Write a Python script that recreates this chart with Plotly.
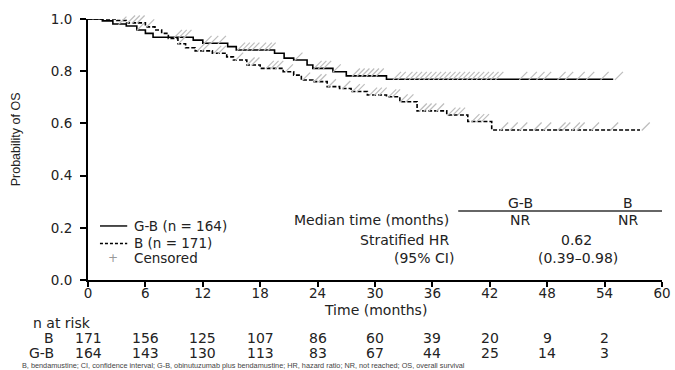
import plotly.graph_objects as go

# ---- data ----
gb_times = [0, 1.5, 2.6, 4.0, 5.1, 6.0, 6.8, 11.0, 12.0, 14.6, 15.5, 19.5, 20.5, 21.5,
            22.9, 23.5, 25.6, 27.0, 31.2, 54.9]
gb_surv = [1.0, 0.993, 0.981, 0.973, 0.958, 0.945, 0.930, 0.919, 0.907, 0.894, 0.881,
           0.869, 0.850, 0.843, 0.824, 0.811, 0.798, 0.782, 0.769, 0.769]
b_times = [0, 3.0, 4.0, 6.0, 7.0, 7.7, 8.4, 9.4, 10.2, 11.2, 13.0, 14.5, 15.2, 16.6,
           18.0, 20.4, 21.5, 22.3, 23.5, 25.0, 26.3, 27.5, 29.2, 31.2, 32.6, 34.4, 37.5,
           39.7, 42.2, 57.7]
b_surv = [1.0, 0.994, 0.985, 0.970, 0.958, 0.945, 0.925, 0.905, 0.890, 0.878, 0.869,
          0.855, 0.843, 0.824, 0.811, 0.798, 0.785, 0.766, 0.760, 0.741, 0.734, 0.722,
          0.709, 0.702, 0.683, 0.648, 0.632, 0.607, 0.575, 0.575]
gb_censor = [0.6, 1.0, 3.6, 5.5, 9.4, 9.9, 10.4, 12.5, 13.2, 14.0, 16.0, 16.5, 17.0,
             17.5, 18.2, 18.8, 19.2, 22.0, 24.0, 24.5, 25.0, 26.0, 28.0, 28.5, 29.0,
             29.5, 30.0, 30.5, 32.3, 32.8, 33.5, 34.0, 34.5, 35.0, 35.5, 36.0, 36.5,
             37.0, 37.5, 38.0, 38.5, 39.0, 39.5, 40.0, 40.5, 41.0, 41.5, 42.0, 42.5,
             43.0, 45.5, 46.5, 47.3, 48.0, 49.5, 50.3, 51.5, 52.5, 54.0, 55.5]
b_censor = [0.3, 1.0, 2.0, 4.5, 5.0, 5.5, 6.5, 9.8, 11.8, 12.3, 13.5, 14.0, 15.8,
            17.0, 17.5, 19.0, 19.5, 20.0, 21.0, 22.8, 24.0, 24.5, 25.5, 27.0, 28.0,
            28.5, 29.8, 30.3, 30.8, 31.8, 32.2, 33.0, 33.6, 35.0, 35.5, 36.0, 36.8,
            38.0, 38.5, 39.0, 40.5, 41.0, 41.5, 43.5, 44.5, 45.5, 47.0, 48.0, 49.5,
            50.0, 51.0, 51.5, 53.0, 55.0, 58.3]
risk_times = [0, 6, 12, 18, 24, 30, 36, 42, 48, 54]
risk_b = [171, 156, 125, 107, 86, 60, 39, 20, 9, 2]
risk_gb = [164, 143, 130, 113, 83, 67, 44, 25, 14, 3]
x_ticks = [0, 6, 12, 18, 24, 30, 36, 42, 48, 54, 60]
y_ticks = [0.0, 0.2, 0.4, 0.6, 0.8, 1.0]
footnote = ("B, bendamustine; CI, confidence interval; G-B, obinutuzumab plus bendamustine; "
            "HR, hazard ratio; NR, not reached; OS, overall survival")

FONT = "DejaVu Sans, Arial, sans-serif"
TXT = "#222222"
CENSOR_OFFSET = 0.013


def step_value(times, surv, t):
    v = surv[0]
    for ti, si in zip(times, surv):
        if ti <= t:
            v = si
    return v


fig = go.Figure()
fig.add_trace(go.Scatter(x=gb_times, y=gb_surv, mode="lines", line_shape="hv",
                         line=dict(color="black", width=1.6), cliponaxis=False,
                         showlegend=False))
fig.add_trace(go.Scatter(x=b_times, y=b_surv, mode="lines", line_shape="hv",
                         line=dict(color="black", width=1.6, dash="4px,2px"),
                         cliponaxis=False, showlegend=False))
for times, surv, cens in [(gb_times, gb_surv, gb_censor), (b_times, b_surv, b_censor)]:
    fig.add_trace(go.Scatter(
        x=cens, y=[step_value(times, surv, c) + CENSOR_OFFSET for c in cens],
        mode="markers", cliponaxis=False, showlegend=False,
        marker=dict(symbol="line-ne", size=8, line=dict(color="#bdbdbd", width=1.2))))

ann = []


def add(text, x, y, xref="x", yref="y", xanchor="center", size=14, color=TXT, family=FONT):
    ann.append(dict(text=text, x=x, y=y, xref=xref, yref=yref, xanchor=xanchor,
                    yanchor="middle", showarrow=False,
                    font=dict(family=family, size=size, color=color)))


# stats table
add("G-B", 45.2, 0.295)
add("B", 56.4, 0.295)
add("Median time (months)", 37.9, 0.230, xanchor="right")
add("NR", 45.2, 0.230)
add("NR", 56.4, 0.230)
add("Stratified HR", 37.9, 0.153, xanchor="right")
add("0.62", 51.1, 0.153)
add("(95% CI)", 38.5, 0.084, xanchor="right")
add("(0.39\u20130.98)", 51.2, 0.084)

# legend
add("G-B (n = 164)", 4.6, 0.207, xanchor="left", size=13.5)
add("B (n = 171)", 4.6, 0.140, xanchor="left", size=13.5)
add("Censored", 4.6, 0.084, xanchor="left", size=13.5)
add("+", 2.6, 0.084, color="#999999", size=12)

# axis titles
add("Time (months)", 30, -0.115, yref="paper")
ann.append(dict(text="Probability of OS", x=-0.125, y=0.54, xref="paper", yref="paper",
                textangle=-90, showarrow=False, xanchor="center", yanchor="middle",
                font=dict(family="Liberation Sans Narrow, Arial Narrow, Arial, sans-serif",
                          size=12.5, color=TXT)))

# risk table
add("n at risk", -0.10, -0.165, xref="paper", yref="paper", xanchor="left")
add("B", -0.055, -0.222, xref="paper", yref="paper", xanchor="right")
add("G-B", -0.055, -0.280, xref="paper", yref="paper", xanchor="right")
for t, nb, ng in zip(risk_times, risk_b, risk_gb):
    add(str(nb), t, -0.222, yref="paper")
    add(str(ng), t, -0.280, yref="paper")

add(footnote, -0.118, -0.326, xref="paper", yref="paper", xanchor="left", size=7.3,
    family="Liberation Sans, Arial, sans-serif", color="#444444")

shapes = [
    dict(type="line", xref="x", yref="y", x0=38.7, x1=60.6, y0=0.264, y1=0.264,
         line=dict(color="#333333", width=1.5)),
    dict(type="line", xref="x", yref="y", x0=1.25, x1=4.1, y0=0.207, y1=0.207,
         line=dict(color="black", width=1.4)),
    dict(type="line", xref="x", yref="y", x0=1.25, x1=4.1, y0=0.140, y1=0.140,
         line=dict(color="black", width=1.4, dash="3px,2px")),
]

fig.update_layout(
    width=675, height=370, margin=dict(l=88, r=13, t=19, b=90, autoexpand=False),
    plot_bgcolor="white", paper_bgcolor="white",
    annotations=ann, shapes=shapes,
    font=dict(family=FONT, size=13, color=TXT),
    xaxis=dict(range=[0, 60], tickvals=x_ticks, showline=True, linecolor="black",
               linewidth=2, ticks="outside", ticklen=5, tickwidth=1.5, tickcolor="black",
               showgrid=False, zeroline=False, ticklabelstandoff=-5, automargin=False,
               tickfont=dict(size=13.5, color=TXT)),
    yaxis=dict(range=[0, 1], tickvals=y_ticks, tickformat=".1f", showline=True,
               linecolor="black", linewidth=2, ticks="outside", ticklen=6, tickwidth=1.5,
               tickcolor="black", showgrid=False, zeroline=False, ticklabelstandoff=5,
               automargin=False, tickfont=dict(size=13.5, color=TXT)),
)

fig.write_html("out.html", config={"displayModeBar": False},
               post_script="document.body.style.margin='0px';")
